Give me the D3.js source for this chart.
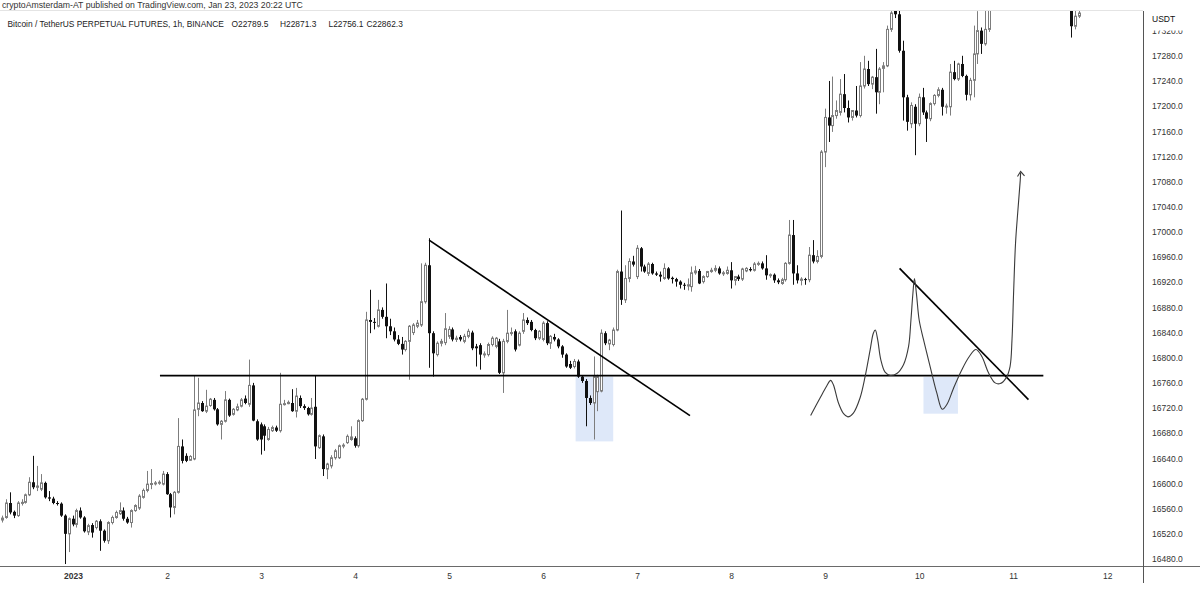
<!DOCTYPE html>
<html>
<head>
<meta charset="utf-8">
<script src="https://cdn.jsdelivr.net/npm/d3@7"></script>
<style>
  html, body { margin: 0; padding: 0; background: #fff; }
  svg { display: block; font-family: "Liberation Sans", Arial, sans-serif; }
</style>
</head>
<body>
<script>
// hourly candles, [open, high, low, close]; hour 0 = Jan 1 2023 00:00
const dec31 = [ // hours -18..-1
  [16542,16549,16538,16545],[16546,16575,16544,16569],[16569,16586,16551,16554],[16555,16557,16545,16549],
  [16549,16572,16547,16569],[16569,16575,16565,16570],[16570,16584,16568,16582],[16582,16610,16580,16602],
  [16602,16644,16591,16594],[16594,16628,16588,16596],[16591,16615,16588,16601],[16601,16603,16576,16578],
  [16578,16588,16572,16576],[16576,16579,16567,16569],[16569,16572,16565,16568],[16568,16570,16547,16549],
  [16549,16551,16472,16520],[16520,16546,16491,16544]
]
const jan01 = [
  [16544,16549,16532,16535],[16535,16560,16530,16557],[16557,16562,16544,16546],[16546,16548,16522,16524],
  [16523,16536,16518,16533],[16534,16537,16514,16522],[16530,16542,16527,16540],[16540,16543,16493,16525],
  [16525,16527,16506,16509],[16509,16540,16504,16538],[16538,16549,16535,16546],[16546,16557,16544,16554],
  [16552,16570,16550,16557],[16557,16562,16541,16544],[16544,16547,16536,16538],[16538,16559,16530,16557],
  [16557,16567,16555,16565],[16561,16583,16558,16580],[16578,16592,16576,16589],[16589,16620,16586,16599],
  [16599,16623,16591,16600],[16600,16604,16597,16601],[16601,16605,16598,16602],[16599,16620,16597,16615]
]
const jan02 = [
  [16615,16618,16582,16583],[16583,16585,16546,16562],[16562,16588,16551,16586],[16586,16704,16584,16659],
  [16659,16670,16632,16636],[16644,16648,16634,16636],[16637,16645,16636,16643],[16639,16771,16637,16717],
  [16718,16768,16707,16728],[16728,16731,16714,16715],[16715,16749,16712,16723],[16724,16736,16722,16734],
  [16733,16736,16716,16718],[16718,16720,16692,16694],[16694,16701,16670,16699],[16699,16747,16697,16733],
  [16733,16735,16706,16708],[16710,16720,16708,16718],[16717,16727,16715,16722],[16723,16736,16721,16733],
  [16735,16740,16726,16728],[16726,16797,16722,16756],[16756,16760,16699,16700],[16699,16702,16668,16670]
]
const jan03 = [
  [16694,16697,16646,16670],[16691,16694,16652,16676],[16670,16690,16668,16686],[16684,16692,16682,16689],
  [16689,16692,16682,16684],[16684,16776,16681,16726],[16726,16733,16724,16727],[16727,16732,16726,16729],
  [16728,16750,16714,16715],[16715,16752,16705,16739],[16736,16740,16720,16723],[16723,16726,16717,16720],
  [16720,16722,16708,16710],[16710,16736,16708,16720],[16722,16771,16639,16659],[16657,16678,16655,16676],
  [16675,16678,16612,16623],[16623,16633,16607,16631],[16628,16645,16624,16641],[16641,16655,16638,16652],
  [16641,16662,16639,16660],[16660,16664,16656,16661],[16665,16678,16663,16675],[16670,16691,16668,16674]
]
const jan04 = [
  [16672,16675,16657,16660],[16660,16702,16657,16700],[16700,16736,16698,16734],[16734,16873,16732,16860],
  [16860,16908,16839,16857],[16857,16863,16845,16856],[16850,16892,16848,16876],[16876,16880,16862,16865],
  [16865,16918,16831,16850],[16850,16862,16836,16842],[16842,16848,16826,16829],[16829,16836,16820,16822],
  [16822,16833,16805,16813],[16813,16828,16810,16826],[16826,16852,16765,16850],[16840,16855,16836,16852],
  [16850,16860,16847,16855],[16852,16950,16849,16889],[16889,16951,16886,16947],[16947,16990,16784,16839],
  [16839,16842,16770,16807],[16805,16826,16802,16823],[16823,16830,16818,16826],[16824,16871,16820,16846]
]
const jan05 = [
  [16834,16850,16830,16845],[16845,16848,16826,16829],[16829,16835,16825,16831],[16833,16836,16826,16829],
  [16826,16838,16823,16834],[16834,16846,16831,16842],[16840,16843,16812,16815],[16818,16822,16786,16815],
  [16820,16823,16781,16805],[16805,16810,16800,16806],[16805,16824,16802,16821],[16821,16834,16818,16831],
  [16818,16833,16815,16831],[16826,16830,16774,16776],[16776,16830,16744,16826],[16826,16876,16823,16839],
  [16839,16848,16835,16840],[16842,16845,16810,16813],[16820,16842,16818,16839],[16842,16871,16838,16860],
  [16860,16864,16852,16855],[16857,16860,16842,16844],[16844,16846,16828,16831],[16831,16844,16828,16842]
]
const jan06 = [
  [16829,16858,16826,16855],[16855,16858,16820,16823],[16823,16836,16814,16834],[16833,16838,16826,16829],
  [16829,16831,16815,16818],[16818,16820,16800,16805],[16805,16807,16784,16786],[16790,16795,16782,16784],
  [16786,16798,16783,16794],[16794,16797,16768,16770],[16770,16772,16760,16763],[16763,16766,16691,16736],
  [16736,16740,16725,16728],[16728,16802,16670,16770],[16746,16773,16715,16770],[16747,16845,16745,16839],
  [16839,16842,16820,16823],[16822,16830,16812,16828],[16821,16848,16818,16844],[16844,16940,16842,16937],
  [16937,17034,16884,16892],[16892,16947,16887,16926],[16926,16958,16920,16953],[16953,16962,16945,16948]
]
const jan07 = [
  [16929,16979,16925,16974],[16974,16976,16937,16945],[16945,16948,16935,16937],[16934,16952,16930,16949],
  [16949,16951,16932,16934],[16934,16937,16930,16932],[16932,16937,16921,16929],[16926,16950,16924,16942],
  [16942,16944,16924,16926],[16927,16929,16918,16925],[16925,16927,16913,16921],[16921,16923,16910,16916],
  [16916,16919,16908,16915],[16914,16926,16907,16916],[16913,16945,16905,16935],[16935,16946,16932,16938],
  [16938,16941,16917,16918],[16921,16931,16918,16929],[16929,16938,16927,16937],[16937,16943,16935,16939],
  [16939,16947,16936,16942],[16942,16945,16932,16934],[16934,16938,16930,16935],[16934,16945,16932,16939]
]
const jan08 = [
  [16939,16952,16910,16923],[16923,16930,16915,16929],[16929,16932,16922,16925],[16925,16943,16922,16941],
  [16938,16944,16936,16942],[16941,16944,16937,16939],[16939,16952,16937,16949],[16949,16953,16946,16950],
  [16950,16953,16940,16942],[16942,16963,16924,16931],[16931,16934,16927,16932],[16932,16934,16919,16923],
  [16923,16926,16917,16920],[16918,16927,16916,16924],[16924,16952,16921,16950],[16950,17019,16948,16995],
  [16995,17019,16916,16934],[16934,16947,16918,16923],[16923,16928,16915,16925],[16925,16927,16916,16924],
  [16924,16976,16920,16963],[16963,16987,16950,16953],[16953,16971,16950,16961],[16961,17130,16958,17127]
]
const jan09 = [
  [17127,17196,17103,17182],[17182,17240,17143,17169],[17169,17247,17159,17185],[17185,17209,17180,17193],
  [17190,17243,17185,17219],[17219,17251,17190,17197],[17197,17209,17174,17182],[17182,17193,17177,17193],
  [17193,17232,17182,17185],[17185,17270,17182,17232],[17232,17280,17228,17259],[17259,17272,17232,17235],
  [17235,17248,17227,17246],[17246,17291,17188,17222],[17222,17262,17203,17259],[17260,17270,17222,17264],
  [17264,17328,17262,17322],[17322,17351,17318,17348],[17352,17360,17340,17346],[17346,17352,17285,17288],
  [17288,17304,17177,17214],[17214,17218,17161,17175],[17172,17206,17165,17201],[17199,17203,17122,17172]
]
const jan10 = [ // last hours sit above the visible price range
  [17172,17220,17168,17214],[17214,17229,17186,17190],[17190,17193,17143,17180],[17180,17206,17176,17204],
  [17204,17219,17201,17217],[17217,17230,17214,17226],[17226,17229,17185,17199],[17199,17204,17188,17200],
  [17199,17267,17185,17254],[17254,17272,17241,17243],[17243,17269,17240,17267],[17267,17280,17246,17248],
  [17248,17250,17209,17218],[17218,17245,17209,17241],[17241,17328,17214,17283],[17283,17351,17267,17320],
  [17320,17325,17283,17299],[17299,17360,17296,17322],[17322,17370,17318,17360],
  null,null,null,null,null
]
const jan11 = [
  null,null,null,null,null,null,null,null,null,null,null,null,null,null,null,
  [17365,17375,17309,17327],[17327,17362,17322,17343],[17343,17360,17340,17348]
]

const dayStarts = [-18, 0, 24, 48, 72, 96, 120, 144, 168, 192, 216, 240]
const dayData = [dec31, jan01, jan02, jan03, jan04, jan05, jan06, jan07, jan08, jan09, jan10, jan11]

const dayTicks = [0, 24, 48, 72, 96, 120, 144, 168, 192, 216, 240, 264]
const dayLabels = ["2023", "2", "3", "4", "5", "6", "7", "8", "9", "10", "11", "12"]
const priceTicks = [16480,16520,16560,16600,16640,16680,16720,16760,16800,16840,16880,16920,
  16960,17000,17040,17080,17120,17160,17200,17240,17280,17320]

// drawings: [hour, price]
const levelLine = [[22.2, 16771.5], [247.7, 16771.5]]
const trendLeft = [[90.9, 16987], [157.5, 16708]]
const trendRight = [[211, 16942], [243.9, 16733.5]]
const boxLeft = [[128.3, 16770], [137.9, 16667]]
const boxRight = [[217.1, 16769.5], [225.9, 16711]]
const sketch = [
  [188.3,16708],[190.7,16736],[192.4,16755],[193.4,16764],[194.1,16757],[195.4,16728],
  [196.7,16711],[197.8,16706],[199.2,16712],[200.9,16736],[202.2,16770],[203.5,16813],
  [204.3,16839],[204.8,16844],[205.4,16829],[206.2,16797],[207.3,16777],[208.6,16772],
  [210.3,16775],[212.0,16789],[213.3,16818],[213.9,16860],[214.4,16902],[214.8,16926],
  [215.3,16902],[216.0,16860],[217.1,16829],[218.8,16786],[220.5,16744],[221.9,16718],
  [223.1,16726],[224.8,16752],[226.9,16781],[228.8,16802],[230.5,16813],[232.0,16802],
  [233.7,16776],[235.4,16760],[236.7,16759],[238.2,16768],[239.2,16786],[239.7,16829],
  [240.1,16902],[240.6,16982],[241.2,17034],[241.8,17082],[241.9,17094]
]
const arrowHead = [[241.1,17088],[241.9,17096],[242.9,17089]]

const candles = dayData.flatMap((arr, d) => arr.map((r, k) => r && {
  t: dayStarts[d] + k, o: r[0], h: r[1], l: r[2], c: r[3]
})).filter(Boolean)

const W = 1200, H = 592
const plot = { left: 0, top: 11, right: 1143, bottom: 566 }

const x = d3.scaleLinear().domain([0, 264]).range([73, 1107.2])
const y = d3.scaleLinear().domain([16480, 17280]).range([559, 55.8])

const svg = d3.select("body").append("svg")
  .attr("width", W).attr("height", H)

svg.append("rect").attr("width", W).attr("height", H).attr("fill", "#fff")

svg.append("clipPath").attr("id", "plotclip")
  .append("rect")
  .attr("x", plot.left).attr("y", plot.top)
  .attr("width", plot.right - plot.left).attr("height", plot.bottom - plot.top)

const g = svg.append("g").attr("clip-path", "url(#plotclip)")

// highlight boxes
for (const b of [boxLeft, boxRight]) {
  g.append("rect")
    .attr("x", x(b[0][0])).attr("y", y(b[0][1]))
    .attr("width", x(b[1][0]) - x(b[0][0]))
    .attr("height", y(b[1][1]) - y(b[0][1]))
    .attr("fill", "#dee8f9")
}

const px = t => Math.floor(x(t)) + 0.5

const cg = g.selectAll("g.candle")
  .data(candles)
  .enter()
  .append("g")
  .attr("class", "candle")

cg.append("line")
  .attr("x1", d => px(d.t)).attr("x2", d => px(d.t))
  .attr("y1", d => y(d.h)).attr("y2", d => y(d.l))
  .attr("stroke", d => d.c >= d.o ? "#7d7d7d" : "#111")
  .attr("stroke-width", 1)

cg.append("rect")
  .attr("x", d => d.c >= d.o ? px(d.t) - 1 : px(d.t) - 1.5)
  .attr("width", d => d.c >= d.o ? 2 : 3)
  .attr("y", d => y(Math.max(d.o, d.c)))
  .attr("height", d => Math.max(1, y(Math.min(d.o, d.c)) - y(Math.max(d.o, d.c))))
  .attr("fill", d => d.c >= d.o ? "#fff" : "#111")
  .attr("stroke", d => d.c >= d.o ? "#7d7d7d" : "none")
  .attr("stroke-width", 1)

// drawings
const line = d3.line().x(d => x(d[0])).y(d => y(d[1]))

for (const seg of [levelLine, trendLeft, trendRight]) {
  g.append("path").attr("d", line(seg))
    .attr("fill", "none").attr("stroke", "#000").attr("stroke-width", 1.7)
}

g.append("path")
  .attr("d", line.curve(d3.curveCatmullRom.alpha(0.5))(sketch))
  .attr("fill", "none").attr("stroke", "#3a3a3a").attr("stroke-width", 1.1)

g.append("path")
  .attr("d", d3.line().x(d => x(d[0])).y(d => y(d[1]))(arrowHead))
  .attr("fill", "none").attr("stroke", "#3a3a3a").attr("stroke-width", 1.1)

// frame lines
svg.append("line").attr("x1", 0).attr("x2", plot.right)
  .attr("y1", plot.top - 0.5).attr("y2", plot.top - 0.5)
  .attr("stroke", "#e4e4e4")
svg.append("line").attr("x1", 0).attr("x2", W)
  .attr("y1", plot.bottom + 0.5).attr("y2", plot.bottom + 0.5)
  .attr("stroke", "#6a6a6a")
svg.append("line").attr("x1", plot.right + 0.5).attr("x2", plot.right + 0.5)
  .attr("y1", plot.top).attr("y2", 583)
  .attr("stroke", "#555")

// time axis
const xAxis = svg.append("g")
  .attr("transform", `translate(0,${plot.bottom})`)
  .call(d3.axisBottom(x).tickValues(dayTicks).tickFormat((d, i) => dayLabels[i]).tickSize(0).tickPadding(7))
xAxis.select(".domain").remove()
xAxis.selectAll("text")
  .attr("font-size", 8.5).attr("font-family", "Liberation Sans, Arial, sans-serif")
  .attr("fill", "#333")
  .attr("font-weight", (d, i) => i === 0 ? "bold" : "normal")

// price axis
const yAxis = svg.append("g")
  .attr("transform", `translate(${plot.right},0)`)
  .call(d3.axisRight(y).tickValues(priceTicks).tickFormat(d => d.toFixed(1)).tickSize(0).tickPadding(9))
yAxis.select(".domain").remove()
yAxis.selectAll("text")
  .attr("font-size", 8.5).attr("font-family", "Liberation Sans, Arial, sans-serif")
  .attr("fill", "#333")

// currency tag sits over the top price label
svg.append("rect").attr("x", plot.right + 1).attr("y", plot.top)
  .attr("width", W - plot.right - 1).attr("height", 19.5).attr("fill", "#fff")
svg.append("text").attr("x", 1152).attr("y", 22)
  .attr("font-size", 8.5).attr("fill", "#111").text("USDT")

// header + legend
svg.append("text").attr("x", 2).attr("y", 8)
  .attr("font-size", 8.7).attr("fill", "#333")
  .text("cryptoAmsterdam-AT published on TradingView.com, Jan 23, 2023 20:22 UTC")

const legend = svg.append("text").attr("y", 26.5)
  .attr("font-size", 8.4).attr("fill", "#222")
const legendParts = [
  [7.5, "Bitcoin / TetherUS PERPETUAL FUTURES, 1h, BINANCE"],
  [231.5, "O22789.5"], [280, "H22871.3"], [328.5, "L22756.1"], [366.5, "C22862.3"]
]
legend.selectAll("tspan").data(legendParts).enter().append("tspan")
  .attr("x", d => d[0]).text(d => d[1])
</script>
</body>
</html>
